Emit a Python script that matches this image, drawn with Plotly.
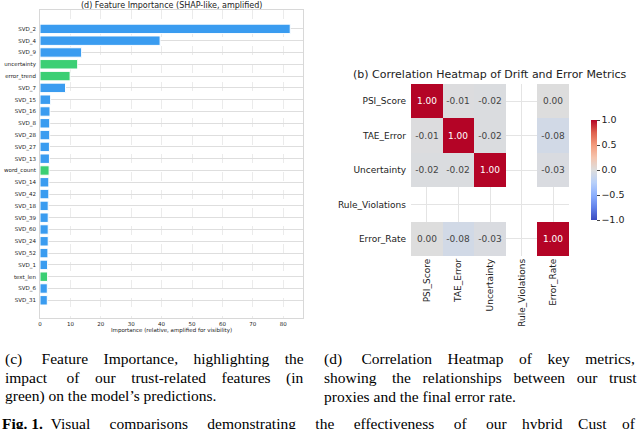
import plotly.graph_objects as go

# feature importance (left panel)
features = ["SVD_2", "SVD_4", "SVD_9", "uncertainty", "error_trend", "SVD_7", "SVD_15", "SVD_16",
            "SVD_8", "SVD_28", "SVD_27", "SVD_13", "word_count", "SVD_14", "SVD_42", "SVD_18",
            "SVD_39", "SVD_60", "SVD_24", "SVD_52", "SVD_1", "text_len", "SVD_6", "SVD_31"]
importance = [82.3, 39.5, 13.7, 12.4, 9.9, 8.4, 3.5, 3.3, 3.2, 3.2, 3.1, 3.1,
              3.0, 2.9, 2.9, 2.7, 2.7, 2.7, 2.7, 2.6, 2.5, 2.5, 2.4, 2.4]
trust_feats = ["uncertainty", "error_trend", "word_count", "text_len"]
x_ticks = [0, 10, 20, 30, 40, 50, 60, 70, 80]

# correlation heatmap (right panel)
metrics = ["PSI_Score", "TAE_Error", "Uncertainty", "Rule_Violations", "Error_Rate"]
corr = [
    [1.00, -0.01, -0.02, None, 0.00],
    [-0.01, 1.00, -0.02, None, -0.08],
    [-0.02, -0.02, 1.00, None, -0.03],
    [None, None, None, None, None],
    [0.00, -0.08, -0.03, None, 1.00],
]
cbar_ticks = [-1.0, -0.5, 0.0, 0.5, 1.0]

# captions: (text, extra no-break spaces spread over the gaps to fake justification)
caption_left = [("(c) Feature Importance, highlighting the", 13),
                ("impact of our trust-related features (in", 16),
                ("green) on the model\u2019s predictions.", 0)]
caption_right = [("(d) Correlation Heatmap of key metrics,", 16),
                 ("showing the relationships between our trust", 11),
                 ("proxies and the final error rate.", 0)]
fig_label = "Fig. 1."
fig_line = ("Visual comparisons demonstrating the effectiveness of our hybrid Cust of", 33)

BLUE = "#3a9cf0"
GREEN = "#3bcf74"
coolwarm = [[0.0, "rgb(59,76,192)"], [0.125, "rgb(98,130,234)"], [0.25, "rgb(141,176,254)"],
            [0.375, "rgb(184,208,249)"], [0.5, "rgb(221,221,221)"], [0.625, "rgb(245,196,173)"],
            [0.75, "rgb(244,154,123)"], [0.875, "rgb(222,96,77)"], [1.0, "rgb(180,4,38)"]]

W, H = 640, 429
def px_x(p): return p / W
def px_y(p): return (H - p) / H

def justify(text, n):
    words = text.split(" ")
    gaps = len(words) - 1
    out = words[0]
    for i, w in enumerate(words[1:]):
        k = n // gaps + (1 if i < n % gaps else 0)
        out += " " + "\u00a0" * k + w
    return out

fig = go.Figure()

fig.add_trace(go.Bar(
    x=importance, y=features, orientation="h",
    marker=dict(color=[GREEN if f in trust_feats else BLUE for f in features],
                line=dict(color="white", width=1)),
    width=0.8, xaxis="x", yaxis="y", showlegend=False,
))

fig.add_trace(go.Heatmap(
    z=corr, x=metrics, y=metrics, xaxis="x2", yaxis="y2",
    zmin=-1, zmax=1, colorscale=coolwarm,
    texttemplate="%{z:.2f}", textfont=dict(size=9, family="DejaVu Sans"),
    hoverongaps=False,
    colorbar=dict(x=px_x(581), xanchor="left", y=px_y(170), yanchor="middle",
                  len=120 / H, thickness=6, outlinewidth=0,
                  tickvals=cbar_ticks, tickformat=".1f", ticks="outside", ticklen=3,
                  tickfont=dict(size=9.5, family="DejaVu Sans", color="#222")),
))

fig.update_layout(
    template="none",
    width=W, height=H, margin=dict(l=0, r=0, t=0, b=0, autoexpand=False),
    paper_bgcolor="white", plot_bgcolor="white",
    font=dict(family="DejaVu Sans", color="#222"),
    xaxis=dict(domain=[px_x(40), px_x(303)], range=[0, 86.5], tickvals=x_ticks,
               tickfont=dict(size=5.5), showgrid=True, gridcolor="#ebebeb", griddash="dash",
               gridwidth=0.8, showline=True, mirror=True, linecolor="#d8d8d8", linewidth=1,
               zeroline=False, anchor="y", ticks="", automargin=False,
               title=dict(text="Importance (relative, amplified for visibility)",
                          font=dict(size=5.5), standoff=2)),
    yaxis=dict(domain=[px_y(318), px_y(10)], range=[len(features) + 0.5, -1.6],
               tickfont=dict(size=5.5), showgrid=True, gridcolor="#dedede", gridwidth=1.2,
               showline=True, mirror=True, linecolor="#d8d8d8", linewidth=1, anchor="x",
               ticks="", ticklabelstandoff=2, automargin=False),
    xaxis2=dict(domain=[px_x(411), px_x(569)], anchor="y2", tickangle=-90,
                tickfont=dict(size=9), showgrid=True, gridcolor="#e4e4e4", gridwidth=1.2,
                showline=False, zeroline=False, ticks="", automargin=False),
    yaxis2=dict(domain=[px_y(256), px_y(84)], anchor="x2", autorange="reversed",
                tickfont=dict(size=9), showgrid=True, gridcolor="#e4e4e4", gridwidth=1.2,
                showline=False, zeroline=False, ticks="", ticklabelstandoff=4,
                automargin=False),
)

ann = [
    dict(text="(d) Feature Importance (SHAP-like, amplified)", x=px_x(171), y=px_y(5),
         font=dict(size=8, family="DejaVu Sans")),
    dict(text="(b) Correlation Heatmap of Drift and Error Metrics", x=px_x(490), y=px_y(75),
         font=dict(size=11, family="DejaVu Sans")),
]
cap_font = dict(size=15.5, family="Liberation Serif", color="black")
line_y = [359, 377.5, 396]
for (line, n), yy in zip(caption_left, line_y):
    ann.append(dict(text=justify(line, n), x=px_x(3), y=px_y(yy), xanchor="left",
                    font=cap_font))
for (line, n), yy in zip(caption_right, line_y):
    ann.append(dict(text=justify(line, n), x=px_x(322), y=px_y(yy), xanchor="left",
                    font=cap_font))
ann.append(dict(text="<b>" + fig_label + "</b>\u00a0\u00a0" + justify(*fig_line),
                x=px_x(0), y=px_y(423), xanchor="left", font=cap_font))
for a in ann:
    a.setdefault("xanchor", "center")
    a.setdefault("yanchor", "middle")
    a.update(xref="paper", yref="paper", showarrow=False)
fig.update_layout(annotations=ann)

# drop the browser's default 8px body margin so the figure sits at the window corner
fig.write_html("out.html", config={"displayModeBar": False},
               post_script="document.body.style.margin='0';")
